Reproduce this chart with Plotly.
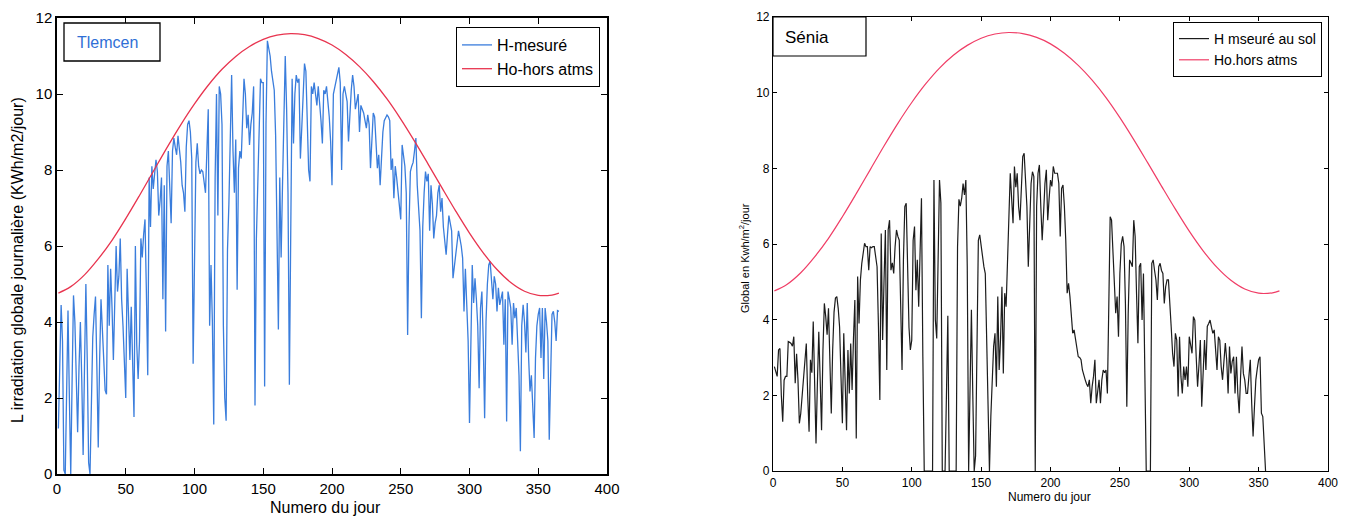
import plotly.graph_objects as go

# ---------------- data ----------------
# Tlemcen: measured daily global irradiation (kWh/m2/day), days 1..365
tlemcen_days = list(range(1, 366))
tlemcen_h = [
    1.2, 3.0, 4.45, 3.5, 0.1, 0.0, 2.8, 4.3, 2.0, 0.0,
    2.5, 4.7, 4.0, 2.5, 1.1, 2.8, 4.0, 2.5, 0.5, 2.8,
    5.0, 3.0, 0.3, 0.0, 2.0, 3.6, 4.2, 4.67, 2.8, 0.7,
    3.0, 4.6, 3.8, 2.8, 2.2, 2.1, 5.5, 3.9, 5.4, 4.4,
    3.0, 4.5, 6.0, 4.8, 5.2, 6.2, 4.6, 3.9, 2.9, 2.0,
    5.4, 4.0, 3.0, 4.4, 2.5, 1.5, 6.0, 3.4, 2.5, 3.5,
    6.2, 5.7, 6.3, 6.7, 4.8, 2.6, 7.8, 6.5, 8.1, 7.5,
    7.9, 8.27, 7.96, 6.8, 7.2, 7.8, 4.6, 7.6, 3.75, 8.1,
    8.5, 7.2, 6.6, 8.5, 8.84, 8.6, 8.4, 8.9, 8.6, 8.2,
    7.6, 7.4, 6.9, 8.6, 9.2, 9.3, 9.0, 8.3, 2.9, 6.4,
    8.2, 8.7, 8.1, 7.9, 8.0, 7.96, 7.7, 7.4, 8.5, 9.6,
    3.9, 5.5, 4.0, 1.3, 7.8, 10.0, 6.8, 10.2, 10.0, 9.2,
    3.9, 2.0, 1.4, 5.9, 7.1, 9.1, 10.5, 8.5, 7.4, 8.8,
    4.85, 8.05, 8.5, 8.3, 9.6, 10.4, 10.0, 9.1, 9.45, 8.66,
    9.2, 9.5, 10.2, 1.8, 6.2, 7.4, 9.0, 10.4, 10.3, 10.3,
    2.3, 9.2, 11.4, 11.2, 11.0, 10.6, 10.3, 10.1, 8.9, 6.4,
    3.8, 7.8, 5.7, 7.6, 9.5, 11.0, 9.6, 7.4, 2.35, 6.0,
    10.4, 8.7, 10.0, 10.5, 10.3, 10.4, 8.3, 9.1, 10.0, 10.8,
    10.6, 8.9, 8.0, 7.7, 10.2, 10.0, 10.3, 10.0, 9.7, 10.2,
    9.8, 9.3, 8.7, 10.1, 10.0, 10.2, 9.8, 9.4, 8.75, 7.6,
    10.0, 10.2, 10.4, 10.5, 10.7, 10.3, 8.0, 10.0, 10.2, 10.0,
    9.8, 8.75, 9.5, 10.1, 10.5, 10.2, 9.6, 9.8, 10.0, 9.0,
    9.7, 9.6, 9.5, 9.3, 9.1, 9.45, 9.2, 8.05, 9.0, 9.5,
    9.4, 8.6, 8.05, 8.4, 7.6, 8.3, 9.0, 9.3, 9.4, 9.45,
    9.4, 9.3, 8.0, 8.3, 7.26, 8.1, 7.8, 7.4, 7.0, 6.7,
    8.66, 8.4, 8.1, 7.4, 3.66, 6.5, 7.96, 8.1, 8.2, 8.5,
    8.84, 7.6, 7.0, 6.4, 4.1, 6.5, 7.4, 7.96, 7.7, 7.9,
    6.4, 7.6, 7.1, 6.2, 6.6, 6.8, 7.4, 7.6, 6.9, 7.26,
    6.5, 6.1, 5.77, 6.3, 6.8, 6.6, 6.4, 5.15, 5.5, 5.77,
    6.1, 6.4, 6.2, 6.0, 5.68, 4.28, 5.4, 4.5, 3.5, 1.34,
    3.5, 5.5, 4.5, 5.15, 4.6, 3.9, 2.26, 4.37, 4.8, 3.5,
    1.47, 4.0, 5.0, 5.5, 5.6, 5.2, 4.6, 5.2, 5.0, 4.28,
    4.9, 4.45, 4.6, 4.8, 3.4, 4.6, 1.38, 4.8, 4.6, 4.37,
    3.4, 4.5, 4.1, 4.37, 3.5, 2.6, 0.6, 3.9, 4.45, 4.0,
    3.2, 4.5, 3.05, 2.17, 2.6, 1.8, 0.95, 3.05, 3.9, 4.2,
    4.37, 3.05, 4.37, 2.5, 4.37, 4.0, 3.5, 0.9, 3.05, 4.2,
    4.28, 4.0, 3.5, 4.3, 4.28,
]

# Sénia: measured daily global irradiation at ground, days 1..355
senia_days = list(range(1, 356))
senia_h = [
    2.76, 2.6, 2.5, 3.2, 3.24, 2.0, 1.3, 2.4, 2.5, 2.5,
    3.42, 3.4, 3.37, 3.3, 3.55, 2.32, 3.1, 2.4, 1.26, 1.52,
    1.96, 2.5, 2.7, 3.37, 2.0, 1.04, 2.94, 2.6, 3.95, 2.0,
    0.73, 2.32, 3.68, 2.4, 1.08, 3.2, 4.43, 4.08, 3.6, 4.3,
    3.2, 1.52, 3.2, 4.2, 4.57, 4.61, 4.3, 3.8, 2.5, 1.26,
    3.64, 2.2, 1.08, 3.2, 2.05, 3.37, 2.14, 3.5, 4.52, 0.86,
    5.14, 3.9, 5.05, 5.49, 5.84, 6.02, 5.93, 5.93, 5.31, 5.93,
    5.9, 5.93, 5.93, 5.62, 5.4, 3.82, 1.88, 6.28, 3.46, 5.0,
    6.37, 2.67, 6.37, 6.63, 5.31, 5.5, 5.22, 5.93, 6.37, 6.2,
    6.1, 4.43, 2.67, 5.58, 6.99, 7.08, 5.4, 3.8, 3.2, 3.46,
    6.1, 6.46, 4.78, 5.58, 4.34, 5.8, 7.21, 3.02, 0.0, 0.0,
    0.0, 0.0, 0.0, 0.0, 0.0, 7.69, 4.0, 3.5, 6.0, 7.69,
    7.08, 0.0, 0.0, 0.0, 2.0, 4.1, 0.0, 0.0, 0.0, 0.0,
    0.0, 0.0, 5.93, 7.18, 7.0, 7.21, 7.6, 7.3, 7.69, 5.4,
    0.0, 1.7, 4.26, 2.0, 0.0, 0.4, 3.0, 6.1, 6.24, 5.9,
    5.67, 5.4, 5.22, 3.38, 1.44, 0.0, 1.44, 2.5, 3.29, 3.64,
    2.23, 4.61, 2.67, 3.5, 4.87, 2.58, 4.7, 4.34, 5.5, 6.63,
    7.87, 7.2, 6.55, 8.05, 7.5, 7.87, 6.99, 6.63, 7.5, 8.31,
    8.4, 7.7, 6.99, 5.4, 6.5, 7.6, 7.91, 7.78, 0.0, 6.99,
    7.87, 8.09, 7.0, 6.1, 6.81, 7.6, 7.96, 6.63, 7.2, 7.69,
    7.52, 8.05, 7.87, 7.87, 7.87, 7.6, 6.2, 7.47, 7.56, 7.0,
    6.1, 4.7, 4.96, 4.61, 4.2, 3.64, 3.73, 3.46, 3.3, 3.02,
    3.0, 2.94, 2.67, 2.5, 2.41, 2.3, 2.23, 2.41, 1.79, 2.23,
    2.5, 2.94, 1.79, 2.1, 2.41, 1.79, 2.41, 2.67, 2.6, 2.67,
    2.05, 4.34, 6.72, 6.63, 5.84, 5.0, 4.17, 4.61, 3.55, 5.22,
    6.0, 6.2, 5.93, 4.43, 1.7, 4.17, 5.58, 5.5, 5.4, 6.63,
    6.2, 4.7, 3.38, 5.4, 5.49, 3.99, 5.22, 2.58, 0.0, 0.0,
    0.0, 0.0, 5.49, 5.58, 5.3, 5.05, 4.52, 5.4, 5.49, 5.3,
    5.22, 4.43, 4.87, 5.05, 5.05, 4.52, 3.8, 3.11, 2.76, 3.64,
    3.46, 1.97, 3.55, 2.5, 2.05, 2.76, 2.41, 2.76, 2.23, 3.55,
    3.3, 3.11, 4.08, 3.99, 3.02, 2.23, 2.8, 3.46, 1.7, 2.58,
    3.46, 2.67, 3.82, 3.9, 3.99, 3.8, 3.64, 3.73, 3.29, 2.67,
    3.55, 3.46, 2.76, 2.41, 2.9, 3.38, 2.94, 2.05, 3.29, 2.58,
    2.9, 3.02, 2.05, 3.02, 2.05, 1.53, 2.5, 3.29, 2.58, 2.41,
    2.05, 2.05, 2.5, 2.94, 1.79, 0.91, 1.7, 2.41, 2.7, 2.94,
    3.02, 1.53, 1.44, 0.5, 0.0,
]

# Extraterrestrial irradiation Ho (read every ~10 days)
ho_days = [1, 10, 20, 30, 40, 50, 60, 70, 80, 90, 100, 110, 120, 130, 140,
           150, 160, 170, 180, 190, 200, 210, 220, 230, 240, 250, 260, 270,
           280, 290, 300, 310, 320, 330, 340, 350, 360, 365]
ho_values = [4.76, 4.93, 5.24, 5.66, 6.15, 6.72, 7.33, 7.96, 8.59, 9.19, 9.74,
             10.23, 10.65, 10.99, 11.25, 11.44, 11.55, 11.59, 11.56, 11.46,
             11.29, 11.04, 10.72, 10.33, 9.87, 9.34, 8.76, 8.15, 7.53, 6.92,
             6.34, 5.82, 5.38, 5.04, 4.81, 4.70, 4.71, 4.76]

x_ticks = [0, 50, 100, 150, 200, 250, 300, 350, 400]
y_ticks = [0, 2, 4, 6, 8, 10, 12]

# ---------------- layout helpers ----------------
W, H = 1349, 517
FONT = "Arial, 'Liberation Sans', sans-serif"


def px(x):
    return x / W


def py(y):
    return 1 - y / H


BLUE = "#3a7ddc"
RED_L = "#e8344f"
RED_R = "#f03d66"
BLACK = "#1c1c1c"

fig = go.Figure()

fig.add_trace(go.Scatter(x=tlemcen_days, y=tlemcen_h, mode="lines", name="H-mesuré",
                         line=dict(color=BLUE, width=1.3), xaxis="x", yaxis="y",
                         legend="legend"))
fig.add_trace(go.Scatter(x=ho_days, y=ho_values, mode="lines", name="Ho-hors atms",
                         line=dict(color=RED_L, width=1.3, shape="spline"),
                         xaxis="x", yaxis="y", legend="legend"))
fig.add_trace(go.Scatter(x=senia_days, y=senia_h, mode="lines", name="H mseuré au sol",
                         line=dict(color=BLACK, width=1.2), xaxis="x2", yaxis="y2",
                         legend="legend2"))
fig.add_trace(go.Scatter(x=ho_days, y=ho_values, mode="lines", name="Ho.hors atms",
                         line=dict(color=RED_R, width=1.2, shape="spline"),
                         xaxis="x2", yaxis="y2", legend="legend2"))

axis_common = dict(showgrid=False, zeroline=False, showline=True, mirror="ticks",
                   ticks="inside", linecolor="black", tickcolor="black",
                   automargin=False)

fig.update_layout(
    template="none",
    width=W, height=H, autosize=False,
    margin=dict(l=0, r=0, t=0, b=0, pad=0, autoexpand=False),
    paper_bgcolor="white", plot_bgcolor="white",
    font=dict(family=FONT, color="black"),
    xaxis=dict(domain=[px(57), px(607)], range=[0, 400], tickvals=x_ticks,
               ticktext=[str(v) for v in x_ticks], anchor="y", linewidth=1.5,
               ticklen=6, tickwidth=1.2, tickfont=dict(size=15), **axis_common),
    yaxis=dict(domain=[py(474), py(18)], range=[0, 12], tickvals=y_ticks,
               ticktext=[str(v) for v in y_ticks], anchor="x", linewidth=1.5,
               ticklen=6, tickwidth=1.2, tickfont=dict(size=15), **axis_common),
    xaxis2=dict(domain=[px(773), px(1328)], range=[0, 400], tickvals=x_ticks,
                ticktext=[str(v) for v in x_ticks], anchor="y2", linewidth=1.2,
                ticklen=4, tickfont=dict(size=12), **axis_common),
    yaxis2=dict(domain=[py(471), py(17)], range=[0, 12], tickvals=y_ticks,
                ticktext=[str(v) for v in y_ticks], anchor="x2", linewidth=1.2,
                ticklen=4, tickfont=dict(size=12), **axis_common),
    legend=dict(x=px(600), y=py(27), xanchor="right", yanchor="top",
                bordercolor="black", borderwidth=1, bgcolor="white",
                font=dict(size=16, family=FONT), tracegroupgap=0,
                entrywidth=118, entrywidthmode="pixels"),
    legend2=dict(x=px(1322), y=py(22), xanchor="right", yanchor="top",
                 bordercolor="black", borderwidth=1, bgcolor="white",
                 font=dict(size=14, family=FONT), tracegroupgap=0),
    showlegend=True,
)

# location boxes
fig.add_shape(type="rect", xref="paper", yref="paper",
              x0=px(64), x1=px(160), y0=py(61), y1=py(23),
              line=dict(color="black", width=1.3), fillcolor="white")
fig.add_shape(type="rect", xref="paper", yref="paper",
              x0=px(773), x1=px(866), y0=py(56), y1=py(17),
              line=dict(color="black", width=1.2), fillcolor="white")

annotations = [
    dict(text="Tlemcen", x=px(75), y=py(42), xanchor="left", yanchor="middle",
         font=dict(size=16, color="#2f6fd6")),
    dict(text="Sénia", x=px(783), y=py(37), xanchor="left", yanchor="middle",
         font=dict(size=17, color="black")),
    dict(text="L irradiation globale journalière (KWh/m2/jour)", x=px(17), y=py(260),
         xanchor="center", yanchor="middle", textangle=-90, font=dict(size=16)),
    dict(text="Numero du jour", x=px(325), y=py(508), xanchor="center",
         yanchor="middle", font=dict(size=16)),
    dict(text="Global en Kwh/m<sup>2</sup>/jour", x=px(744), y=py(258),
         xanchor="center", yanchor="middle", textangle=-90, font=dict(size=11)),
    dict(text="Numero du jour", x=px(1049), y=py(497), xanchor="center",
         yanchor="middle", font=dict(size=12)),
]
for a in annotations:
    a.update(xref="paper", yref="paper", showarrow=False)
    fig.add_annotation(**a)

fig.write_html("out.html")
